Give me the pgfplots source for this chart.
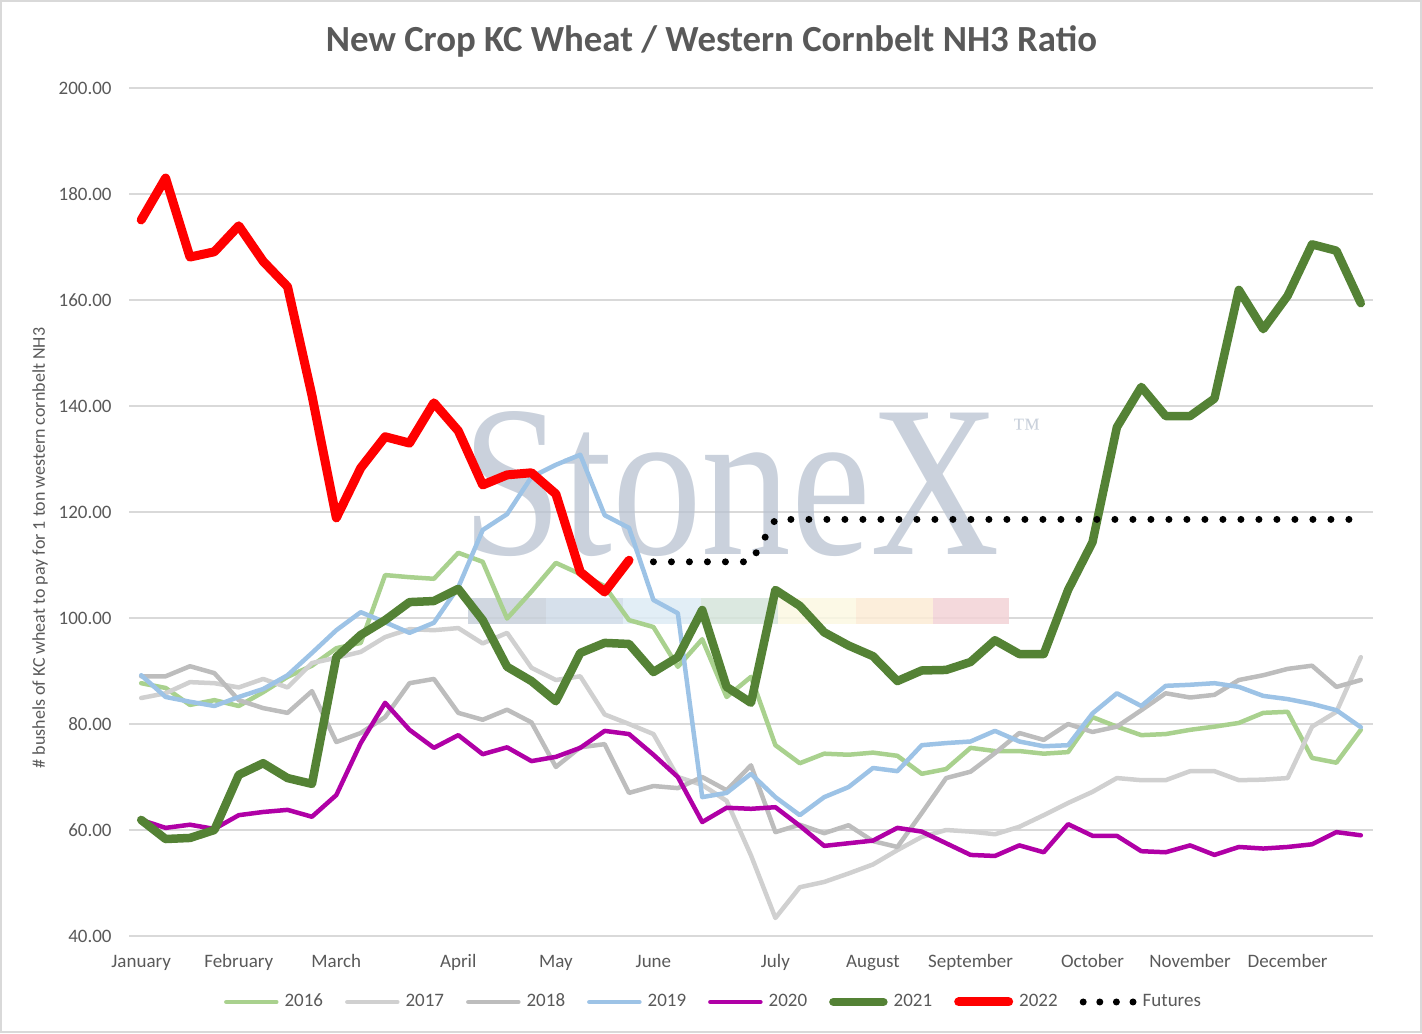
\documentclass[border=0pt]{standalone}
\usepackage{fontspec}
\setmainfont{Carlito}
\newfontfamily\wmfont{Liberation Serif}
\usepackage{pgfplots}
\usepackage{pgfplotstable}
\pgfplotsset{compat=1.18}

\definecolor{c2016}{HTML}{A9D18E}
\definecolor{c2017}{HTML}{D0D0D0}
\definecolor{c2018}{HTML}{BDBDBD}
\definecolor{c2019}{HTML}{9DC3E6}
\definecolor{c2020}{HTML}{B000A6}
\definecolor{c2021}{HTML}{548235}
\definecolor{c2022}{HTML}{FF0000}
\definecolor{textgrey}{HTML}{595959}
\definecolor{gridgrey}{HTML}{D9D9D9}
\definecolor{framegrey}{HTML}{D9D9D9}
\definecolor{wmgrey}{HTML}{B8C2D0}
\definecolor{wma}{HTML}{C8D0DA}
\definecolor{wmb}{HTML}{CFDBE8}
\definecolor{wmc}{HTML}{DDEBF5}
\definecolor{wmd}{HTML}{D5E4DA}
\definecolor{wme}{HTML}{FBF8E2}
\definecolor{wmf}{HTML}{FCEBD5}
\definecolor{wmg}{HTML}{F2D2D6}

\pgfplotstableread{
i  a16   a17   a18   a19   a20   a21
0  87.7  84.9  89.0  89.2  61.9  61.9
1  86.8  85.8  89.0  85.1  60.4  58.3
2  83.6  87.9  90.9  84.2  61.0  58.5
3  84.5  87.7  89.6  83.4  60.2  60.0
4  83.4  86.9  84.5  85.1  62.8  70.4
5  86.0  88.5  83.0  86.6  63.4  72.6
6  88.9  86.9  82.1  89.2  63.8  69.8
7  91.0  91.5  86.2  93.4  62.5  68.7
8  94.3  92.5  76.6  97.7  66.6  92.6
9  95.3  93.6  78.3  101.1 76.4  96.8
10 108.1 96.4  81.3  99.2  84.0  99.6
11 107.7 97.9  87.7  97.2  78.9  103.0
12 107.4 97.7  88.5  99.1  75.5  103.2
13 112.3 98.1  82.1  105.8 77.9  105.5
14 110.6 95.2  80.8  116.6 74.3  99.6
15 99.9  97.2  82.7  119.6 75.6  90.8
16 105.0 90.6  80.3  126.6 73.0  88.1
17 110.4 88.3  71.9  128.9 73.8  84.3
18 108.3 89.0  75.6  130.8 75.5  93.4
19 106.0 81.8  76.2  119.4 78.7  95.3
20 99.6  80.0  67.0  117.0 78.1  95.1
21 98.3  78.1  68.3  103.4 74.2  89.8
22 90.8  70.0  67.9  100.9 70.0  92.6
23 96.0  68.5  70.0  66.2  61.5  101.5
24 85.1  65.5  67.5  67.0  64.2  87.0
25 88.9  55.2  72.2  70.6  64.0  84.0
26 76.0  43.4  59.6  66.2  64.3  105.3
27 72.6  49.2  61.0  62.8  60.8  102.3
28 74.4  50.2  59.4  66.2  57.0  97.3
29 74.2  51.8  60.9  68.1  57.5  94.8
30 74.6  53.5  57.9  71.7  58.0  92.8
31 74.0  56.2  56.8  71.1  60.4  88.1
32 70.6  58.7  63.2  76.0  59.7  90.1
33 71.5  60.0  69.8  76.4  57.5  90.2
34 75.5  59.7  71.0  76.7  55.3  91.7
35 74.9  59.2  74.5  78.7  55.1  95.8
36 74.9  60.6  78.3  76.7  57.1  93.2
37 74.4  62.8  77.0  75.8  55.8  93.2
38 74.7  65.1  80.0  76.0  61.1  105.3
39 81.3  67.2  78.5  82.0  58.9  114.3
40 79.5  69.8  79.5  85.8  58.9  136.0
41 77.9  69.4  82.6  83.4  56.0  143.6
42 78.1  69.4  85.8  87.2  55.8  138.1
43 78.9  71.1  85.0  87.4  57.1  138.1
44 79.5  71.1  85.5  87.7  55.3  141.4
45 80.2  69.4  88.3  87.0  56.8  161.9
46 82.1  69.5  89.2  85.3  56.5  154.5
47 82.3  69.8  90.4  84.7  56.8  160.8
48 73.6  79.5  91.0  83.8  57.3  170.5
49 72.7  82.3  87.0  82.6  59.6  169.3
50 78.9  92.6  88.3  79.4  59.0  159.4
}\maindata

\pgfplotstableread{
i  v
0  175.1
1  183.0
2  168.1
3  169.1
4  174.0
5  167.3
6  162.5
7  142.0
8  118.9
9  128.3
10 134.2
11 133.0
12 140.6
13 135.3
14 125.1
15 127.0
16 127.4
17 123.4
18 108.7
19 104.9
20 110.9
}\datared

\pgfplotstableread{
i  v
21 110.6
22 110.6
23 110.6
24 110.6
25 110.6
26 118.6
27 118.6
28 118.6
29 118.6
30 118.6
31 118.6
32 118.6
33 118.6
34 118.6
35 118.6
36 118.6
37 118.6
38 118.6
39 118.6
40 118.6
41 118.6
42 118.6
43 118.6
44 118.6
45 118.6
46 118.6
47 118.6
48 118.6
49 118.6
50 118.6
}\datafut

\begin{document}
\begin{tikzpicture}
\path[use as bounding box] (-64.5pt,-48.5pt) rectangle (646.5pt,468pt);
\draw[color=framegrey, line width=1pt] (-64pt,-48pt) rectangle (646pt,467.5pt);
\begin{axis}[
  at={(0pt,0pt)}, anchor=south west,
  scale only axis, width=622pt, height=424pt,
  xmin=-0.5, xmax=50.5, ymin=40, ymax=200,
  axis line style={draw=none},
  major tick length=0pt,
  ytick={40,60,...,200},
  yticklabels={40.00,60.00,80.00,100.00,120.00,140.00,160.00,180.00,200.00},
  xtick={0,4,8,13,17,21,26,30,34,39,43,47},
  xticklabels={January,February,March,April,May,June,July,August,September,October,November,December},
  ymajorgrids, xmajorgrids=false,
  grid style={color=gridgrey, line width=1pt},
  tick label style={font=\fontsize{9.5}{11}\selectfont, text=textgrey},
  yticklabel style={anchor=east, inner sep=0pt, xshift=-8.5pt},
  xticklabel style={anchor=base, yshift=-15.5pt},
  legend columns=8,
  legend style={at={(0.4715,-0.0778)}, anchor=center, draw=none, fill=none,
    font=\fontsize{9.5}{11}\selectfont, text=textgrey,
    nodes={inner ysep=1.5pt, inner xsep=3pt},
    /tikz/every even column/.append style={column sep=8pt}},
  legend image code/.code={\draw[#1] (0pt,0pt) -- (25pt,0pt);},
  every axis plot/.append style={line join=round, line cap=round},
]
% watermark
\fill[wma, fill opacity=0.85] (axis cs:13.40,98.9) rectangle (axis cs:16.58,103.8);
\fill[wmb, fill opacity=0.85] (axis cs:16.58,98.9) rectangle (axis cs:19.76,103.8);
\fill[wmc, fill opacity=0.85] (axis cs:19.76,98.9) rectangle (axis cs:22.94,103.8);
\fill[wmd, fill opacity=0.85] (axis cs:22.94,98.9) rectangle (axis cs:26.12,103.8);
\fill[wme, fill opacity=0.85] (axis cs:26.12,98.9) rectangle (axis cs:29.30,103.8);
\fill[wmf, fill opacity=0.85] (axis cs:29.30,98.9) rectangle (axis cs:32.48,103.8);
\fill[wmg, fill opacity=0.85] (axis cs:32.48,98.9) rectangle (axis cs:35.57,103.8);
\node[anchor=base, inner sep=0pt, text=wmgrey, text opacity=0.75, xscale=0.83] at (axis cs:24.2,111.9) {\wmfont\fontsize{108}{108}\selectfont StoneX};
\node[inner sep=0pt, text=wmgrey, text opacity=0.75] at (axis cs:36.3,135.8) {\wmfont\fontsize{14}{14}\selectfont ™};

\addplot[c2016, line width=2.25pt] table[x=i, y=a16] {\maindata};
\addlegendentry{2016}
\addplot[c2017, line width=2.25pt] table[x=i, y=a17] {\maindata};
\addlegendentry{2017}
\addplot[c2018, line width=2.25pt] table[x=i, y=a18] {\maindata};
\addlegendentry{2018}
\addplot[c2019, line width=2.25pt] table[x=i, y=a19] {\maindata};
\addlegendentry{2019}
\addplot[c2020, line width=2.25pt] table[x=i, y=a20] {\maindata};
\addlegendentry{2020}
\addplot[c2021, line width=4.25pt] table[x=i, y=a21] {\maindata};
\addlegendentry{2021}
\addplot[c2022, line width=4.5pt] table[x=i, y=v] {\datared};
\addlegendentry{2022}
\addplot[black, line width=3.5pt, dash pattern=on 0pt off 9pt, line cap=round,
  legend image code/.code={\draw[black, line width=3.5pt, line cap=round, dash pattern=on 0pt off 8.3pt] (0pt,0pt) -- (25pt,0pt);}] table[x=i, y=v] {\datafut};
\addlegendentry{Futures}
\end{axis}
\node[anchor=base, font=\fontsize{18.4}{22}\selectfont\bfseries, text=textgrey] at (291.25pt,442pt) {New Crop KC Wheat / Western Cornbelt NH3 Ratio};
\node[rotate=90, font=\fontsize{9}{11}\selectfont, text=textgrey] at (-44.5pt,194pt) {\# bushels of KC wheat to pay for 1 ton western cornbelt NH3};
\end{tikzpicture}
\end{document}
